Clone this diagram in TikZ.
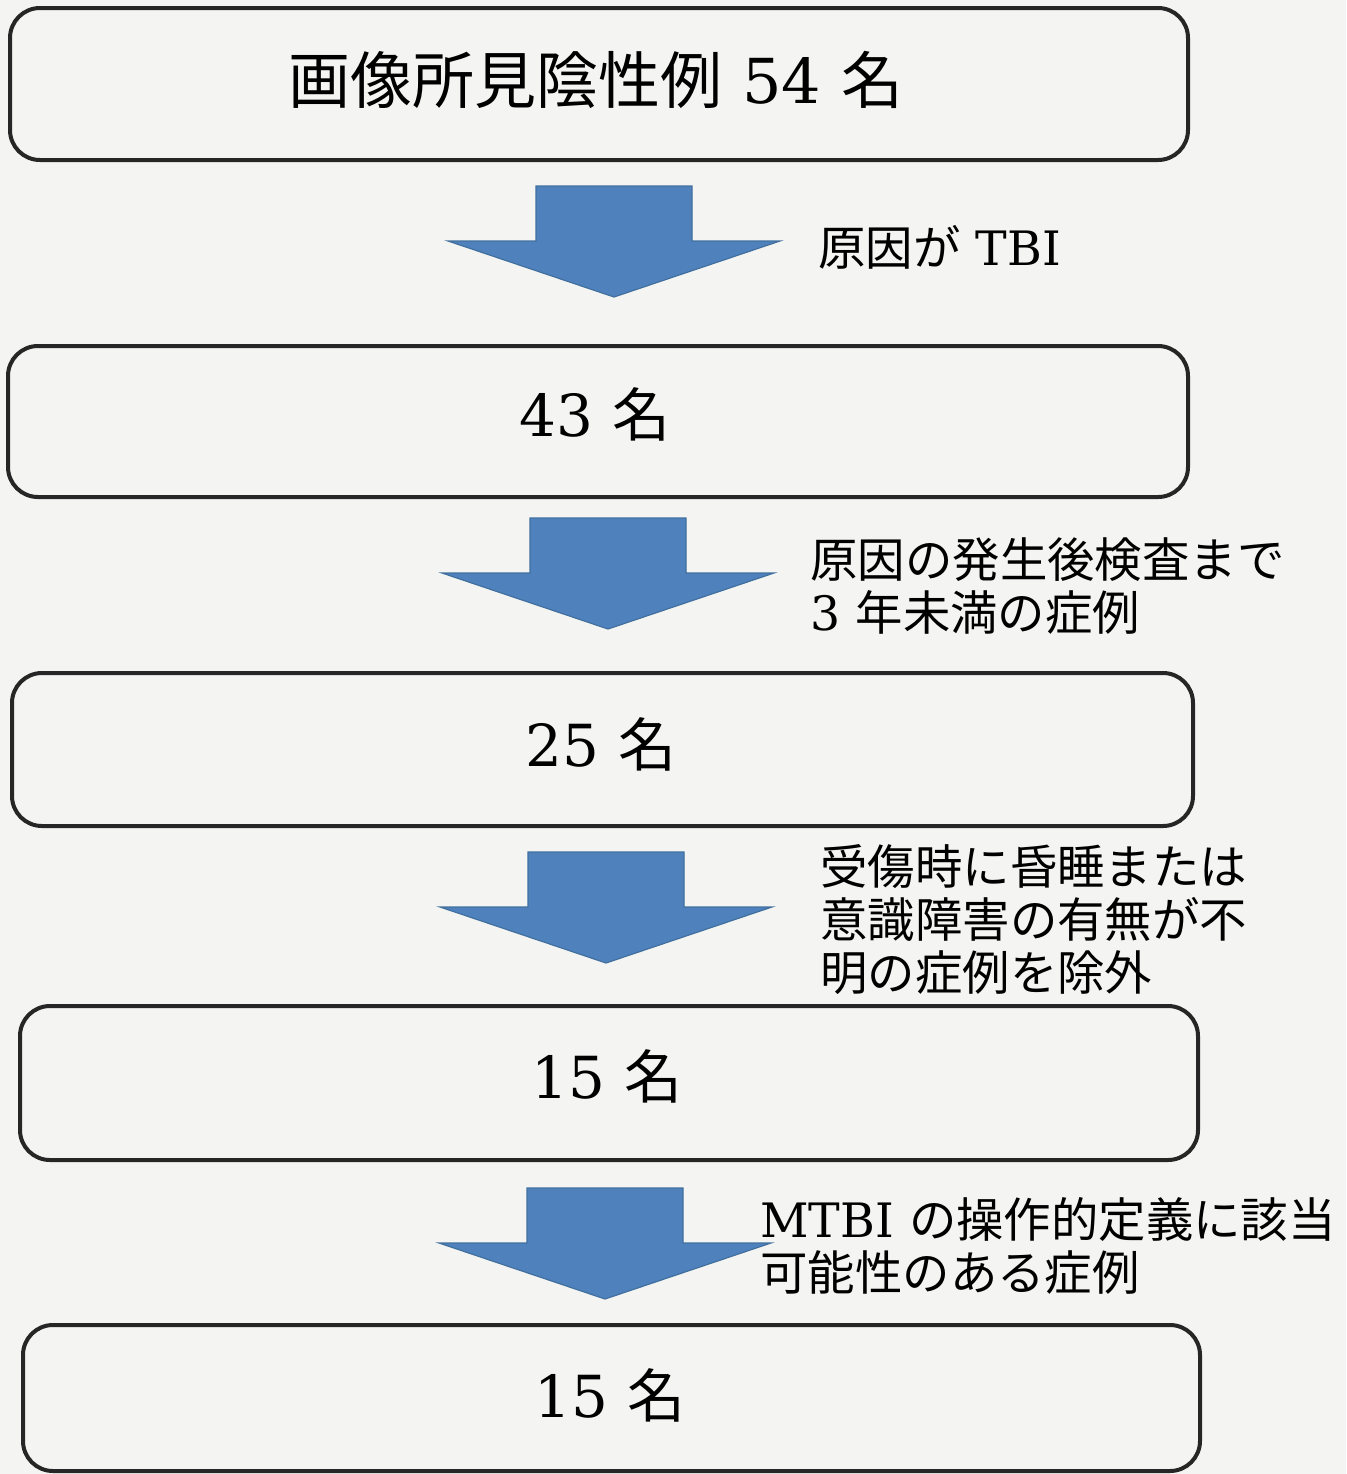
\documentclass[tikz,border=0pt]{standalone}
\usepackage{fontspec}
\setmainfont{DejaVu Serif}
\newfontfamily\cjk{Noto Sans CJK JP}
\definecolor{paper}{HTML}{F4F4F2}
\definecolor{arrowblue}{HTML}{4F81BD}
\definecolor{arrowedge}{HTML}{41709F}
\begin{document}
\begin{tikzpicture}[x=0.5pt,y=-0.5pt,
  flowbox/.style={draw=black!85,line width=2pt,rounded corners=15pt,fill=none,inner sep=0pt},
  bigtext/.style={font=\fontsize{31}{35}\selectfont},
  numtext/.style={font=\fontsize{29}{33}\selectfont},
  labeltext/.style={font=\fontsize{23.7}{26.5}\selectfont,align=left,anchor=west,inner sep=0pt},
  blockarrow/.pic={
    \fill[arrowblue,draw=arrowedge,line width=0.6pt]
      (-78,0) -- (78,0) -- (78,55) -- (166,55) -- (0,111) -- (-166,55) -- (-78,55) -- cycle;
  }]
\useasboundingbox (0,0) rectangle (1346,1474);
\fill[paper] (0,0) rectangle (1346,1474);

% boxes (corner-to-corner)
\draw[flowbox] (10,8) rectangle (1188,160);
\node[bigtext] (b1) at (596,80) {{\cjk 画像所見陰性例} 54 {\cjk 名}};
\draw[flowbox] (8,346) rectangle (1188,497);
\node[numtext] (b2) at (595,414) {43 {\cjk 名}};
\draw[flowbox] (12,673) rectangle (1193,826);
\node[numtext] (b3) at (601,744) {25 {\cjk 名}};
\draw[flowbox] (20,1006) rectangle (1198,1160);
\node[numtext] (b4) at (607,1076) {15 {\cjk 名}};
\draw[flowbox] (23,1325) rectangle (1200,1471);
\node[numtext] (b5) at (610,1395) {15 {\cjk 名}};

% block arrows
\pic at (614,186) {blockarrow};
\pic at (608,518) {blockarrow};
\pic at (606,852) {blockarrow};
\pic at (605,1188) {blockarrow};

% labels
\node[labeltext] (l1) at (818,247) {{\cjk 原因が} TBI};
\node[labeltext] (l2) at (810,586) {{\cjk 原因の発生後検査まで}\\3 {\cjk 年未満の症例}};
\node[labeltext] (l3) at (820,920) {{\cjk 受傷時に昏睡または}\\{\cjk 意識障害の有無が不}\\{\cjk 明の症例を除外}};
\node[labeltext] (l4) at (760,1246) {MTBI {\cjk の操作的定義に該当}\\{\cjk 可能性のある症例}};
\end{tikzpicture}
\end{document}
